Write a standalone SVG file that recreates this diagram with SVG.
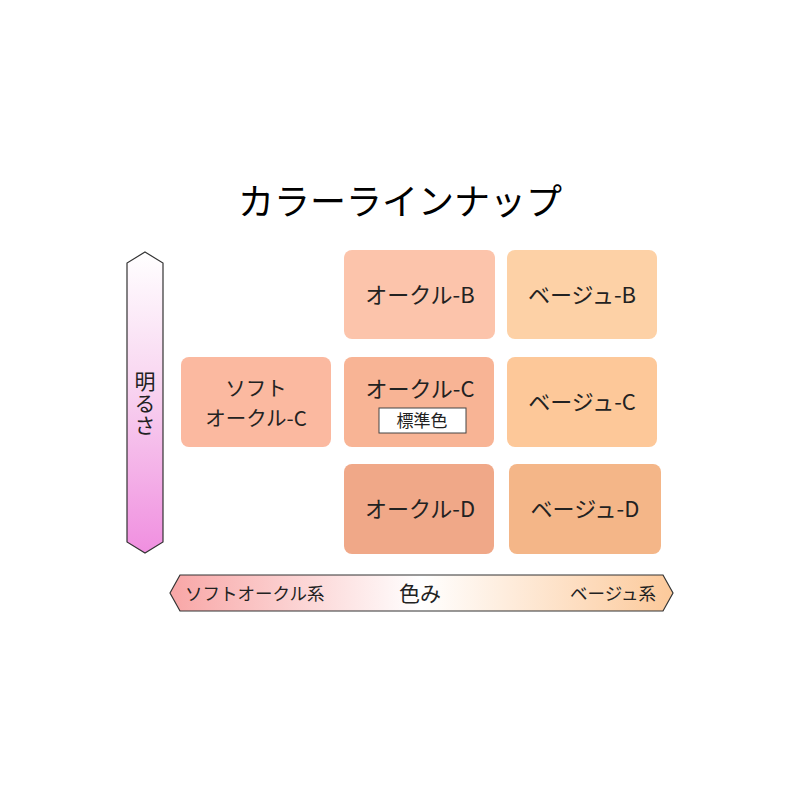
<svg xmlns="http://www.w3.org/2000/svg" width="800" height="800" viewBox="0 0 800 800">
<defs>
<linearGradient id="gv" x1="0" y1="0" x2="0" y2="1">
<stop offset="0" stop-color="#ffffff"/>
<stop offset="0.45" stop-color="#f8d4f0"/>
<stop offset="1" stop-color="#f08fe0"/>
</linearGradient>
<linearGradient id="gh" x1="0" y1="0" x2="1" y2="0">
<stop offset="0" stop-color="#f8a6a6"/>
<stop offset="0.5" stop-color="#ffffff"/>
<stop offset="1" stop-color="#fcc99a"/>
</linearGradient>
<style>
text{font-family:"Noto Sans CJK JP","Noto Sans",sans-serif;fill:#222;}
.b{font-size:22px;text-anchor:middle;}
.s{font-size:17.5px;}
</style>
</defs>
<rect width="800" height="800" fill="#ffffff"/>
<text x="400" y="215" style="font-size:36px;text-anchor:middle;fill:#000">カラーラインナップ</text>
<g id="axis-v">
<polygon points="145,252 163,263 163,542 145,553 127,542 127,263" fill="url(#gv)" stroke="#333" stroke-width="1.2"/>
<text x="145" y="404" style="font-size:21px;writing-mode:vertical-rl;text-anchor:middle;letter-spacing:1px">明るさ</text>
</g>
<g id="axis-h">
<polygon points="170,593 180,575 663,575 673,593 663,611 180,611" fill="url(#gh)" stroke="#333" stroke-width="1.2"/>
<text x="185" y="600" class="s">ソフトオークル系</text>
<text x="420" y="601" style="font-size:21px;text-anchor:middle">色み</text>
<text x="656" y="600" class="s" style="text-anchor:end">ベージュ系</text>
</g>
<g id="ochre-b">
<rect x="344" y="250" width="151" height="89" rx="8" fill="#fcc4ab"/>
<text x="420" y="303" class="b">オークル-B</text>
</g>
<g id="beige-b">
<rect x="507" y="250" width="150" height="89" rx="8" fill="#fdd1a6"/>
<text x="582" y="303" class="b">ベージュ-B</text>
</g>
<g id="soft-ochre-c">
<rect x="181" y="357" width="150" height="90" rx="8" fill="#fbb9a0"/>
<text x="256" y="396" style="font-size:20.5px;text-anchor:middle">ソフト</text>
<text x="256" y="426" style="font-size:20.5px;text-anchor:middle">オークル-C</text>
</g>
<g id="ochre-c">
<rect x="344" y="357" width="150" height="90" rx="8" fill="#f8b495"/>
<text x="420" y="397" class="b">オークル-C</text>
<rect x="379" y="408" width="87" height="25" fill="#ffffff" stroke="#444" stroke-width="1"/>
<text x="422" y="427" style="font-size:17px;text-anchor:middle">標準色</text>
</g>
<g id="beige-c">
<rect x="507" y="357" width="150" height="90" rx="8" fill="#fdc899"/>
<text x="582" y="410" class="b">ベージュ-C</text>
</g>
<g id="ochre-d">
<rect x="344" y="464" width="150" height="90" rx="8" fill="#f0a888"/>
<text x="420" y="517" class="b">オークル-D</text>
</g>
<g id="beige-d">
<rect x="509" y="464" width="152" height="90" rx="8" fill="#f4b688"/>
<text x="585" y="517" class="b">ベージュ-D</text>
</g>
<g id="connectors"></g>
</svg>
